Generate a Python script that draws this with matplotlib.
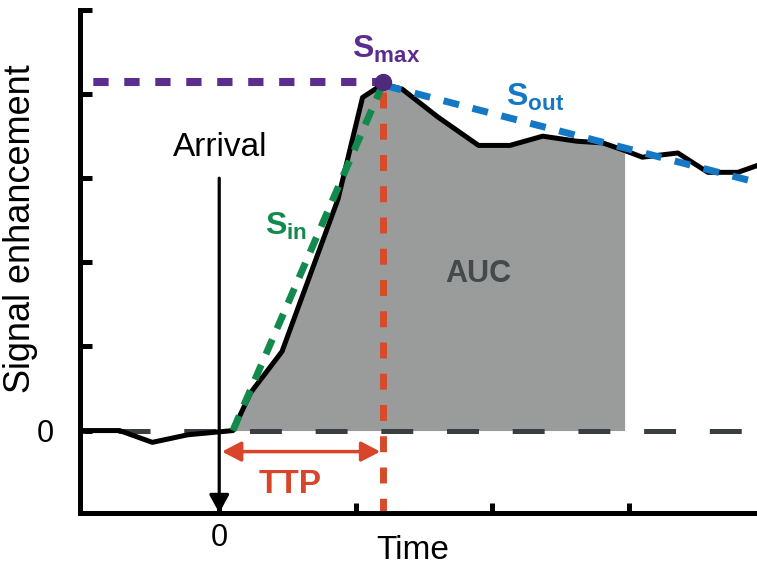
"""Curva de realce de señal con parámetros (Smax, Sin, Sout, TTP, AUC)."""

import matplotlib
matplotlib.use('Agg')
import matplotlib.pyplot as plt
import numpy as np

plt.rcParams['font.family'] = ['Liberation Sans', 'DejaVu Sans']
plt.rcParams['mathtext.fontset'] = 'custom'
plt.rcParams['mathtext.bf'] = 'Liberation Sans:bold'
plt.rcParams['mathtext.rm'] = 'Liberation Sans'
plt.rcParams['lines.scale_dashes'] = False

# Curva de realce (tiempo, señal)
tiempo = [-1.02, -0.73, -0.49, -0.23, 0.10, 0.23, 0.46, 0.87, 1.05, 1.20,
          1.34, 1.60, 1.90, 2.13, 2.37, 2.62, 2.81, 2.97, 3.10, 3.36,
          3.58, 3.80, 3.94]
senal = [0.0, 0.0, -0.14, -0.05, 0.0, 0.45, 0.94, 2.75, 3.96, 4.12,
         4.06, 3.73, 3.39, 3.39, 3.50, 3.44, 3.42, 3.33, 3.25, 3.30,
         3.07, 3.07, 3.15]

# Parámetros
t_arrival = 0.0
arrival_top = 3.0
t_ttp = 1.2
s_max = 4.14
auc_ini, auc_fin = 0.10, 2.97
s_in_x = [0.10, 1.18]
s_in_y = [0.0, 4.05]
s_out_x = [1.22, 3.94]
s_out_y = [4.10, 2.95]
ttp_y = -0.25

xlim = (-1.02, 3.94)
ylim = (-0.98, 5.0)
xticks = [0, 1, 2, 3]
xtick_labels = ['0', '', '', '']
yticks = [0, 1, 2, 3, 4, 5]
ytick_labels = ['0', '', '', '', '', '']

PURPURA = '#5a2d8f'
VERDE = '#138a4d'
AZUL = '#1578c4'
ROJO = '#d9452b'

fig = plt.figure(figsize=(7.57, 5.66), dpi=100)
ax = fig.add_axes([80 / 757, 53 / 566, 1 - 80 / 757, 503 / 566])
ax.set_xlim(*xlim)
ax.set_ylim(*ylim)

t = np.array(tiempo)
s = np.array(senal)
mask = (t >= auc_ini) & (t <= auc_fin)
ax.fill_between(t[mask], s[mask], 0, color='#9a9c9c', lw=0, zorder=1)

# Línea base
ax.axhline(0, color='#3a3e41', lw=3.6, linestyle=(19.9, (23, 24.3)), zorder=2)

# TTP vertical y Smax horizontal
ax.plot([t_ttp, t_ttp], [4.03, ylim[0]], color='#d64b2a', lw=5,
        linestyle=(0, (11.5, 11)), zorder=2.5, solid_capstyle='butt')
ax.plot([xlim[0], t_ttp], [s_max, s_max], color=PURPURA, lw=5.8,
        linestyle=(12.7, (11, 11.3)), zorder=2.5)

# Curva
ax.plot(t, s, color='black', lw=3.6, zorder=3)

# Pendientes
ax.plot(s_in_x, s_in_y, color=VERDE, lw=5, linestyle=(0, (11.5, 8.5)), zorder=4)
ax.plot(s_out_x, s_out_y, color=AZUL, lw=5, linestyle=(0, (11.5, 10)), zorder=4)

ax.plot(t_ttp, s_max, 'o', ms=11.5, color='#4d2a7c', zorder=6)

# Flechas
ax.annotate('', xy=(t_arrival, ylim[0]), xytext=(t_arrival, arrival_top),
            arrowprops=dict(arrowstyle='-|>,head_length=1.1,head_width=0.6',
                            mutation_scale=10, lw=2.3, color='black',
                            shrinkA=0, shrinkB=0), zorder=5)
ax.annotate('', xy=(0.02, ttp_y), xytext=(1.18, ttp_y),
            arrowprops=dict(arrowstyle='<|-|>,head_length=1.15,head_width=0.6',
                            mutation_scale=10, lw=2.5, color=ROJO,
                            shrinkA=0, shrinkB=0), zorder=5)

# Textos
ax.text(0.01, 3.26, 'Arrival', ha='center', va='baseline', fontsize=24)
ax.text(0.52, -0.64, 'TTP', ha='center', va='center', fontsize=24,
        fontweight='bold', color=ROJO)
ax.text(1.90, 1.86, 'AUC', ha='center', va='center', fontsize=22,
        fontweight='bold', color='#45494c', zorder=6)
ax.text(1.22, 4.44, r'$\mathbf{S}_{\mathbf{max}}$', ha='center', va='baseline',
        fontsize=23, color=PURPURA)
ax.text(2.315, 3.86, r'$\mathbf{S}_{\mathbf{out}}$', ha='center', va='baseline',
        fontsize=23, color=AZUL)
ax.text(0.49, 2.33, r'$\mathbf{S}_{\mathbf{in}}$', ha='center', va='baseline',
        fontsize=23, color=VERDE)

# Ejes
for lado in ['top', 'right']:
    ax.spines[lado].set_visible(False)
for lado in ['left', 'bottom']:
    ax.spines[lado].set_linewidth(3.6)
ax.set_xticks(xticks, labels=xtick_labels)
ax.set_yticks(yticks, labels=ytick_labels)
ax.tick_params(direction='in', width=3.6, labelsize=22)
ax.tick_params(axis='y', length=8.6, pad=18.5)
ax.tick_params(axis='x', length=7, pad=7)

ax.set_ylabel('Signal enhancement', fontsize=26)
ax.yaxis.set_label_coords(-0.062, 0.565)
ax.set_xlabel('Time', fontsize=24)
ax.xaxis.set_label_coords(0.492, -0.044)

fig.savefig('out.png', dpi=100)
